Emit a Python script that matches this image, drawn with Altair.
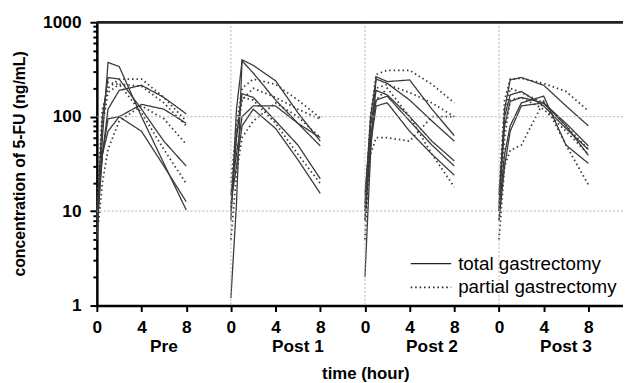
import altair as alt
import pandas as pd

# ---------------- data ----------------
times = [0, 0.5, 1, 2, 4, 6, 8]
panels = ["Pre", "Post 1", "Post 2", "Post 3"]
groups = ["total gastrectomy", "partial gastrectomy"]
panel_step = 12
x_max = 47.1

pre_total = [
    [5, 60, 375, 340, 100, 32, 10.3],
    [8, 100, 260, 250, 120, 55, 30],
    [6, 40, 120, 190, 215, 160, 107],
    [10, 40, 70, 100, 135, 120, 85],
    [8, 40, 95, 100, 70, 30, 12.6],
]
pre_partial = [
    [10, 120, 200, 250, 250, 160, 90],
    [5, 20, 45, 90, 130, 95, 51],
    [8, 100, 230, 220, 110, 45, 19.6],
    [10, 80, 180, 220, 210, 140, 80],
]
post1_total = [
    [1.2, 12, 400, 350, 240, 110, 55],
    [8, 120, 390, 290, 150, 85, 49],
    [10, 60, 175, 160, 90, 50, 22],
    [15, 40, 100, 130, 130, 85, 60],
    [12, 30, 80, 120, 75, 35, 15.4],
]
post1_partial = [
    [20, 80, 200, 250, 220, 150, 97],
    [15, 60, 150, 200, 160, 120, 94],
    [5, 25, 60, 90, 140, 100, 60],
    [10, 70, 160, 150, 85, 40, 19.6],
]
post2_total = [
    [2, 40, 265, 235, 245, 120, 63],
    [12, 100, 250, 225, 150, 90, 55],
    [15, 80, 190, 170, 100, 55, 34],
    [10, 60, 150, 165, 90, 50, 30],
    [8, 50, 130, 140, 70, 40, 24],
]
post2_partial = [
    [10, 100, 280, 310, 310, 220, 140],
    [8, 40, 60, 60, 55, 100, 100],
    [5, 60, 150, 200, 100, 40, 18],
    [10, 80, 200, 220, 180, 140, 100],
]
post3_total = [
    [10, 120, 245, 260, 215, 130, 80],
    [15, 100, 170, 185, 130, 75, 45],
    [12, 80, 145, 160, 140, 80, 39],
    [10, 40, 80, 140, 165, 50, 32],
    [8, 30, 70, 130, 140, 85, 49],
]
post3_partial = [
    [15, 150, 250, 255, 225, 185, 115],
    [5, 30, 44, 50, 145, 50, 19],
    [10, 100, 200, 180, 140, 80, 45],
    [8, 60, 150, 160, 120, 70, 40],
]

y_ticks = [m * 10 ** k for k in range(3) for m in range(1, 10)] + [1000]
x_ticks = list(range(0, 47, 2))

# ---------------- tables ----------------
panel_data = [
    (pre_total, pre_partial),
    (post1_total, post1_partial),
    (post2_total, post2_partial),
    (post3_total, post3_partial),
]
rows = []
for p, (tot, par) in enumerate(panel_data):
    for g, series in ((groups[0], tot), (groups[1], par)):
        for j, vals in enumerate(series):
            for t, v in zip(times, vals):
                rows.append({"time": p * panel_step + t, "conc": v, "group": g,
                             "series": f"{panels[p]}-{g}-{j}"})
df = pd.DataFrame(rows)

labels_df = pd.DataFrame({"panel": panels,
                          "time": [p * panel_step + 6 for p in range(len(panels))]})
vgrid_df = pd.DataFrame({"time": [p * panel_step for p in range(1, len(panels))]})
hgrid_df = pd.DataFrame({"conc": [10, 100]})

FONT = "Liberation Sans"
W, H = 533, 287

xscale = alt.Scale(domain=[0, x_max], nice=False, zero=False)
yscale = alt.Scale(type="log", domain=[1, 1000], nice=False)
is_major = "indexof([1,10,100,1000], datum.value) >= 0"

x_axis = alt.Axis(
    values=x_ticks,
    labelExpr="datum.value % 4 == 0 ? toString(datum.value % 12) : ''",
    tickSize=6, tickWidth=2, tickColor="black",
    domainColor="black", domainWidth=2.5,
    labelFont=FONT, labelFontSize=17.5, labelFontWeight="bold", labelColor="black",
    labelPadding=7, labelFlush=False, labelOverlap=False, grid=False,
    title="time (hour)", titleFont=FONT, titleFontSize=17, titleFontWeight="bold",
    titleColor="black", titleX=272, titleY=74, titleBaseline="alphabetic",
)
y_axis = alt.Axis(
    values=y_ticks,
    labelExpr=f"{is_major} ? toString(datum.value) : ''",
    tickSize={"condition": {"test": is_major, "value": 7}, "value": 4},
    tickWidth=2, tickColor="black",
    domainColor="black", domainWidth=2.5,
    labelFont=FONT, labelFontSize=17.5, labelFontWeight="bold", labelColor="black",
    labelPadding=9, labelOverlap=False, grid=False,
    title="concentration of 5-FU (ng/mL)", titleFont=FONT, titleFontSize=16,
    titleFontWeight="bold", titleColor="black", titleX=-78, titleY=143,
    titleBaseline="middle", titleAngle=270,
)

lines = alt.Chart(df).mark_line(color="#3a3a3a").encode(
    x=alt.X("time:Q", scale=xscale, axis=x_axis, title="time (hour)"),
    y=alt.Y("conc:Q", scale=yscale, axis=y_axis, title="concentration of 5-FU (ng/mL)"),
    detail="series:N",
    strokeDash=alt.StrokeDash("group:N", scale=alt.Scale(domain=groups, range=[[1, 0], [1.5, 3]]),
                              legend=alt.Legend(
                                  title=None, orient="none", legendX=329, legendY=235,
                                  symbolType="M-4,0H4", symbolSize=105, symbolStrokeWidth=1.5,
                                  symbolStrokeColor="#222", labelFont=FONT, labelFontSize=19,
                                  labelColor="black", labelOffset=18, rowPadding=4, padding=0,
                                  labelLimit=400,
                              )),
    strokeWidth=alt.StrokeWidth("group:N", scale=alt.Scale(domain=groups, range=[1.3, 1.8]),
                                legend=None),
)

vgrid = alt.Chart(vgrid_df).mark_rule(color="#b5b5b5", strokeDash=[2, 2], strokeWidth=1).encode(
    x=alt.X("time:Q", scale=xscale, title="time (hour)"),
)
hgrid = alt.Chart(hgrid_df).mark_rule(color="#b5b5b5", strokeDash=[2, 2], strokeWidth=1).encode(
    y=alt.Y("conc:Q", scale=yscale, title="concentration of 5-FU (ng/mL)"),
)
top_line = alt.Chart(hgrid_df).mark_rule(color="#222", strokeWidth=2.5).encode(
    y=alt.value(0), x=alt.value(0), x2=alt.value(W),
)
panel_text = alt.Chart(labels_df).mark_text(
    font=FONT, fontSize=17.5, fontWeight="bold", color="black", baseline="middle", align="center"
).encode(
    x=alt.X("time:Q", scale=xscale, title="time (hour)"),
    y=alt.value(H + 42),
    text="panel:N",
)

chart = alt.layer(lines, vgrid, hgrid, top_line, panel_text).properties(
    width=W, height=H,
    autosize=alt.AutoSizeParams(type="none"),
    padding={"left": 90, "top": 12, "right": 0, "bottom": 75},
).configure_view(stroke=None).resolve_scale(x="shared", y="shared")

chart.save("out.html", embed_options={"renderer": "svg", "actions": False})
